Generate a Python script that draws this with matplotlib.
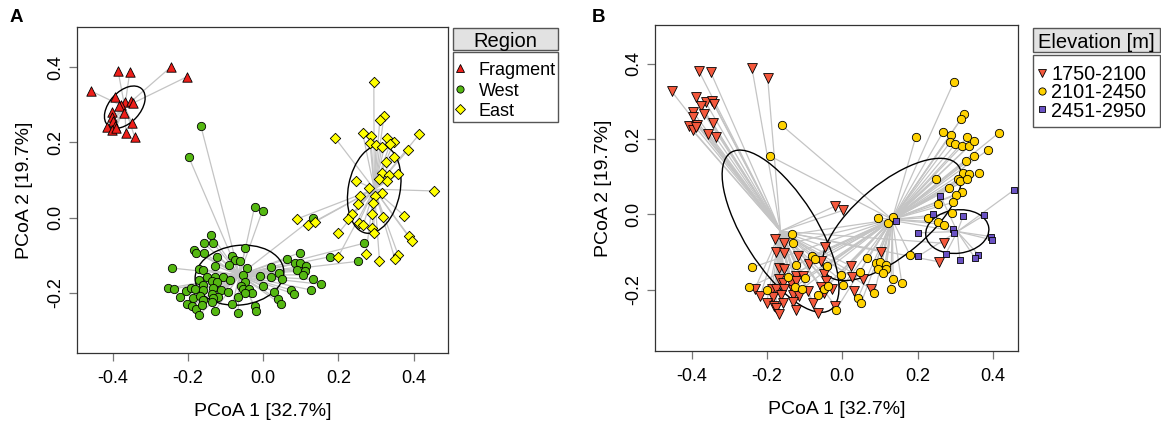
import numpy as np
import matplotlib
matplotlib.use("Agg")
import matplotlib.pyplot as plt
from matplotlib.patches import Ellipse, Rectangle
from matplotlib.lines import Line2D
from matplotlib.collections import LineCollection

plt.rcParams['font.family'] = ['Liberation Sans', 'DejaVu Sans']

# ---------------- Panel A data (PCoA scores by region) ----------------
frag_x = [-0.386, -0.355, -0.245, -0.204, -0.459, -0.394, -0.367, -0.351, -0.346, -0.377, -0.383,
          -0.402, -0.370, -0.401, -0.399, -0.349, -0.415, -0.394, -0.403, -0.392, -0.365, -0.342]
frag_y = [0.390, 0.387, 0.401, 0.374, 0.337, 0.322, 0.308, 0.311, 0.304, 0.299, 0.297,
          0.282, 0.277, 0.268, 0.258, 0.252, 0.242, 0.244, 0.233, 0.238, 0.224, 0.215]

west_x = [-0.023, -0.002, 0.131, -0.138, -0.184, -0.158, -0.133, -0.178, -0.157, -0.048,
          0.098, -0.122, -0.084, -0.075, -0.062, -0.092, 0.062, 0.177, 0.085, 0.098,
          0.114, -0.243, -0.170, -0.161, -0.128, -0.044, 0.020, 0.043, 0.091, 0.111,
          0.106, -0.055, -0.009, 0.020, 0.051, 0.131, 0.153, -0.149, -0.128, -0.108,
          -0.137, -0.124, -0.171, -0.160, -0.089, -0.048, 0.000, -0.253, -0.238, -0.205,
          -0.191, -0.182, -0.161, -0.133, -0.112, -0.093, -0.059, -0.053, -0.037, -0.030,
          -0.049, -0.067, 0.029, 0.074, 0.082, 0.126, -0.222, -0.188, -0.168, -0.137,
          -0.120, -0.133, -0.160, -0.135, -0.204, -0.190, -0.179, -0.164, -0.170, -0.128,
          -0.082, -0.067, -0.023, -0.019, 0.039, 0.046, -0.166, -0.198, 0.268, 0.253]
west_y = [0.029, 0.019, -0.002, -0.046, -0.086, -0.068, -0.068, -0.093, -0.095, -0.080,
          -0.093, -0.104, -0.102, -0.112, -0.115, -0.126, -0.110, -0.104, -0.121, -0.120,
          -0.128, -0.134, -0.136, -0.139, -0.128, -0.133, -0.132, -0.148, -0.139, -0.141,
          -0.152, -0.152, -0.155, -0.158, -0.164, -0.164, -0.177, -0.159, -0.158, -0.157,
          -0.168, -0.170, -0.165, -0.179, -0.165, -0.170, -0.181, -0.188, -0.190, -0.195,
          -0.186, -0.190, -0.192, -0.188, -0.192, -0.197, -0.183, -0.190, -0.189, -0.201,
          -0.201, -0.210, -0.197, -0.192, -0.203, -0.192, -0.211, -0.214, -0.208, -0.203,
          -0.210, -0.214, -0.220, -0.225, -0.229, -0.235, -0.243, -0.232, -0.258, -0.247,
          -0.230, -0.254, -0.236, -0.247, -0.217, -0.229, 0.244, 0.161, -0.068, -0.116]

east_x = [0.294, 0.321, 0.310, 0.191, 0.264, 0.286, 0.284, 0.300, 0.328, 0.348,
          0.337, 0.316, 0.415, 0.384, 0.348, 0.326, 0.316, 0.334, 0.359, 0.307,
          0.328, 0.247, 0.280, 0.454, 0.316, 0.257, 0.297, 0.251, 0.292, 0.237,
          0.224, 0.288, 0.318, 0.375, 0.254, 0.266, 0.290, 0.294, 0.200, 0.388,
          0.395, 0.091, 0.120, 0.138, 0.273, 0.199, 0.309, 0.359, 0.350]
east_y = [0.360, 0.271, 0.260, 0.212, 0.226, 0.217, 0.198, 0.193, 0.212, 0.202,
          0.196, 0.189, 0.222, 0.179, 0.162, 0.149, 0.118, 0.113, 0.115, 0.102,
          0.098, 0.098, 0.078, 0.071, 0.066, 0.058, 0.058, 0.036, 0.038, 0.009,
          -0.003, 0.010, 0.003, 0.005, -0.013, -0.020, -0.028, -0.042, -0.041, -0.050,
          -0.062, -0.003, -0.019, -0.011, -0.096, -0.104, -0.114, -0.100, -0.110]

# ---------------- Panel B data (PCoA scores by elevation) ----------------
low_x = [-0.453, -0.380, -0.349, -0.240, -0.198, -0.389, -0.363, -0.346, -0.340, -0.376,
         -0.366, -0.396, -0.395, -0.344, -0.408, -0.386, -0.397, -0.389, -0.357, -0.336,
         -0.019, 0.003, -0.179, -0.154, -0.176, -0.154, -0.118, -0.045, -0.088, -0.057,
         0.102, -0.168, -0.156, -0.123, -0.103, 0.023, -0.048, 0.025, 0.056, -0.167,
         -0.158, -0.136, -0.123, -0.043, -0.057, -0.028, -0.232, -0.187, -0.176, -0.156,
         -0.130, -0.090, -0.048, 0.032, 0.076, -0.218, -0.183, -0.163, -0.132, -0.115,
         -0.201, -0.180, -0.158, -0.132, -0.079, -0.176, -0.167, -0.123, -0.065, -0.019,
         0.271, 0.256]
low_y = [0.327, 0.380, 0.377, 0.390, 0.362, 0.312, 0.298, 0.302, 0.293, 0.288,
         0.266, 0.272, 0.259, 0.242, 0.235, 0.237, 0.224, 0.231, 0.213, 0.205,
         0.022, 0.011, -0.066, -0.075, -0.099, -0.102, -0.111, -0.086, -0.132, -0.123,
         -0.099, -0.143, -0.146, -0.164, -0.163, -0.137, -0.159, -0.166, -0.172, -0.173,
         -0.182, -0.182, -0.177, -0.177, -0.192, -0.197, -0.198, -0.197, -0.199, -0.197,
         -0.201, -0.204, -0.208, -0.204, -0.198, -0.217, -0.220, -0.214, -0.214, -0.217,
         -0.236, -0.244, -0.236, -0.232, -0.236, -0.250, -0.266, -0.254, -0.261, -0.243,
         -0.077, -0.126]

mid_x = [-0.161, -0.192, 0.094, 0.122, 0.135, -0.134, -0.130, -0.080, -0.072, -0.239,
         -0.123, -0.041, 0.066, 0.089, 0.100, 0.116, 0.095, 0.116, 0.109, 0.047,
         -0.004, -0.143, -0.099, -0.125, -0.247, -0.201, -0.108, -0.049, -0.039, 0.003,
         0.135, 0.158, 0.129, -0.064, 0.042, 0.050, 0.085, -0.017,
         0.296, 0.324, 0.314, 0.195, 0.267, 0.288, 0.286, 0.300, 0.318, 0.332,
         0.336, 0.350, 0.416, 0.386, 0.350, 0.328, 0.319, 0.336, 0.362, 0.249,
         0.308, 0.312, 0.330, 0.283, 0.318, 0.301, 0.253, 0.295, 0.290, 0.227,
         0.255, 0.269, 0.180]
mid_y = [0.237, 0.155, -0.009, -0.024, -0.006, -0.053, -0.075, -0.110, -0.119, -0.141,
         -0.135, -0.137, -0.117, -0.130, -0.127, -0.135, -0.146, -0.146, -0.157, -0.152,
         -0.161, -0.167, -0.168, -0.192, -0.194, -0.201, -0.199, -0.197, -0.190, -0.188,
         -0.171, -0.183, -0.198, -0.214, -0.221, -0.235, -0.208, -0.254,
         0.352, 0.266, 0.252, 0.206, 0.218, 0.211, 0.191, 0.187, 0.182, 0.205,
         0.181, 0.195, 0.217, 0.171, 0.154, 0.142, 0.110, 0.107, 0.109, 0.093,
         0.094, 0.089, 0.093, 0.071, 0.060, 0.051, 0.027, 0.032, 0.003, -0.009,
         -0.020, -0.027, -0.109]

high_x = [0.142, 0.202, 0.202, 0.456, 0.260, 0.240, 0.321, 0.377, 0.293, 0.297,
          0.394, 0.398, 0.275, 0.312, 0.361, 0.352]
high_y = [-0.018, -0.049, -0.111, 0.065, 0.050, 0.000, -0.004, -0.002, -0.039, -0.049,
          -0.059, -0.068, -0.104, -0.121, -0.107, -0.116]

region_labels = ['Fragment', 'West', 'East']
elev_labels = ['1750-2100', '2101-2450', '2451-2950']
xtick_vals = [-0.4, -0.2, 0.0, 0.2, 0.4]
xtick_labels = ['-0.4', '-0.2', '0.0', '0.2', '0.4']
ytick_vals = [-0.2, 0.0, 0.2, 0.4]
ytick_labels = ['-0.2', '0.0', '0.2', '0.4']

# ---------------- styles ----------------
colA = ['#EE1F1A', '#55B812', '#FFFF00']
mkA = ['^', 'o', 'D']
sA = [46, 36, 28]
colB = ['#F4583C', '#FFD200', '#6A52C4']
mkB = ['v', 'o', 's']
sB = [50, 36, 22]

W, H = 1161, 421
fig = plt.figure(figsize=(W / 100, H / 100), dpi=100)
axA = fig.add_axes([76.7 / W, 1 - 352.7 / H, (448.3 - 76.7) / W, (352.7 - 27.3) / H])
axB = fig.add_axes([655.0 / W, 1 - 351.0 / H, (1018.3 - 655.0) / W, (351.0 - 25.0) / H])


def spider_ellipse(ax, x, y):
    x = np.asarray(x)
    y = np.asarray(y)
    cx, cy = x.mean(), y.mean()
    segs = [[(cx, cy), (xi, yi)] for xi, yi in zip(x, y)]
    ax.add_collection(LineCollection(segs, colors='#C4C4C4', linewidths=0.9, zorder=1))
    cov = np.cov(x, y)
    vals, vecs = np.linalg.eigh(cov)
    order = vals.argsort()[::-1]
    vals, vecs = vals[order], vecs[:, order]
    ang = np.degrees(np.arctan2(vecs[1, 0], vecs[0, 0]))
    ax.add_patch(Ellipse((cx, cy), 2 * np.sqrt(vals[0]), 2 * np.sqrt(vals[1]), angle=ang,
                         fill=False, ec='black', lw=1.0, zorder=2))


groupsA = [(frag_x, frag_y), (west_x, west_y), (east_x, east_y)]
groupsB = [(low_x, low_y), (mid_x, mid_y), (high_x, high_y)]

for (gx, gy) in groupsA:
    spider_ellipse(axA, gx, gy)
for (gx, gy), c, m, s in zip(groupsA, colA, mkA, sA):
    axA.scatter(gx, gy, s=s, marker=m, c=c, edgecolors='black', linewidths=0.6, zorder=3)

for (gx, gy) in groupsB:
    spider_ellipse(axB, gx, gy)
for (gx, gy), c, m, s in zip(groupsB, colB, mkB, sB):
    axB.scatter(gx, gy, s=s, marker=m, c=c, edgecolors='black', linewidths=0.6, zorder=3)

axA.set_xlim(-0.496, 0.492)
axA.set_ylim(-0.359, 0.506)
axB.set_xlim(-0.497, 0.467)
axB.set_ylim(-0.363, 0.503)

for ax in (axA, axB):
    ax.set_xticks(xtick_vals)
    ax.set_xticklabels(xtick_labels)
    ax.set_yticks(ytick_vals)
    ax.set_yticklabels(ytick_labels)
    ax.tick_params(direction='out', length=6, width=0.9, color='#777777', labelsize=13,
                   labelcolor='black')
    ax.tick_params(axis='x', pad=6.5)
    ax.tick_params(axis='y', pad=3.0, labelrotation=90)
    for lbl in ax.get_yticklabels():
        lbl.set_va('center')
    for sp in ax.spines.values():
        sp.set_color('#333333')
        sp.set_linewidth(0.9)
    ax.set_xlabel('PCoA 1 [32.7%]', fontsize=14, labelpad=11.5)
    ax.set_ylabel('PCoA 2 [19.7%]', fontsize=14, labelpad=10)

fig.text(16 / W, 1 - 18 / H, 'A', fontsize=13.5, fontweight='bold', ha='center', va='center')
fig.text(598 / W, 1 - 18 / H, 'B', fontsize=13.5, fontweight='bold', ha='center', va='center')


def legend_box(x0, x1, t0, t1, b0, b1, title, labels, cols, mks, msz, mx, tx, ys, fs):
    fig.add_artist(Rectangle((x0 / W, 1 - t1 / H), (x1 - x0) / W, (t1 - t0) / H,
                             transform=fig.transFigure, fc='#E2E2E2', ec='#555555', lw=1.0))
    fig.text((x0 + x1) / 2 / W, 1 - (t0 + t1) / 2 / H, title, fontsize=14.5,
             ha='center', va='center_baseline')
    fig.add_artist(Rectangle((x0 / W, 1 - b1 / H), (x1 - x0) / W, (b1 - b0) / H,
                             transform=fig.transFigure, fc='white', ec='#555555', lw=1.0))
    for lab, c, m, ms, yy in zip(labels, cols, mks, msz, ys):
        fig.add_artist(Line2D([mx / W], [1 - yy / H], transform=fig.transFigure, marker=m,
                              ms=ms, mfc=c, mec='black', mew=0.6, ls='none'))
        fig.text(tx / W, 1 - yy / H, lab, fontsize=fs, ha='left', va='center_baseline')


legend_box(452.7, 558.3, 28.3, 50.0, 52.3, 122.3, 'Region', region_labels, colA,
           ['^', 'o', 'D'], [6.0, 5.2, 4.6], 460, 479, [68.3, 89.3, 109.3], 13)
legend_box(1032.7, 1159.7, 28.3, 52.3, 55.0, 126.7, 'Elevation [m]', elev_labels, colB,
           ['v', 'o', 's'], [6.0, 5.2, 4.6], 1041.7, 1051.5, [72.7, 91.0, 109.3], 14.3)

fig.savefig('out.png', dpi=100)
